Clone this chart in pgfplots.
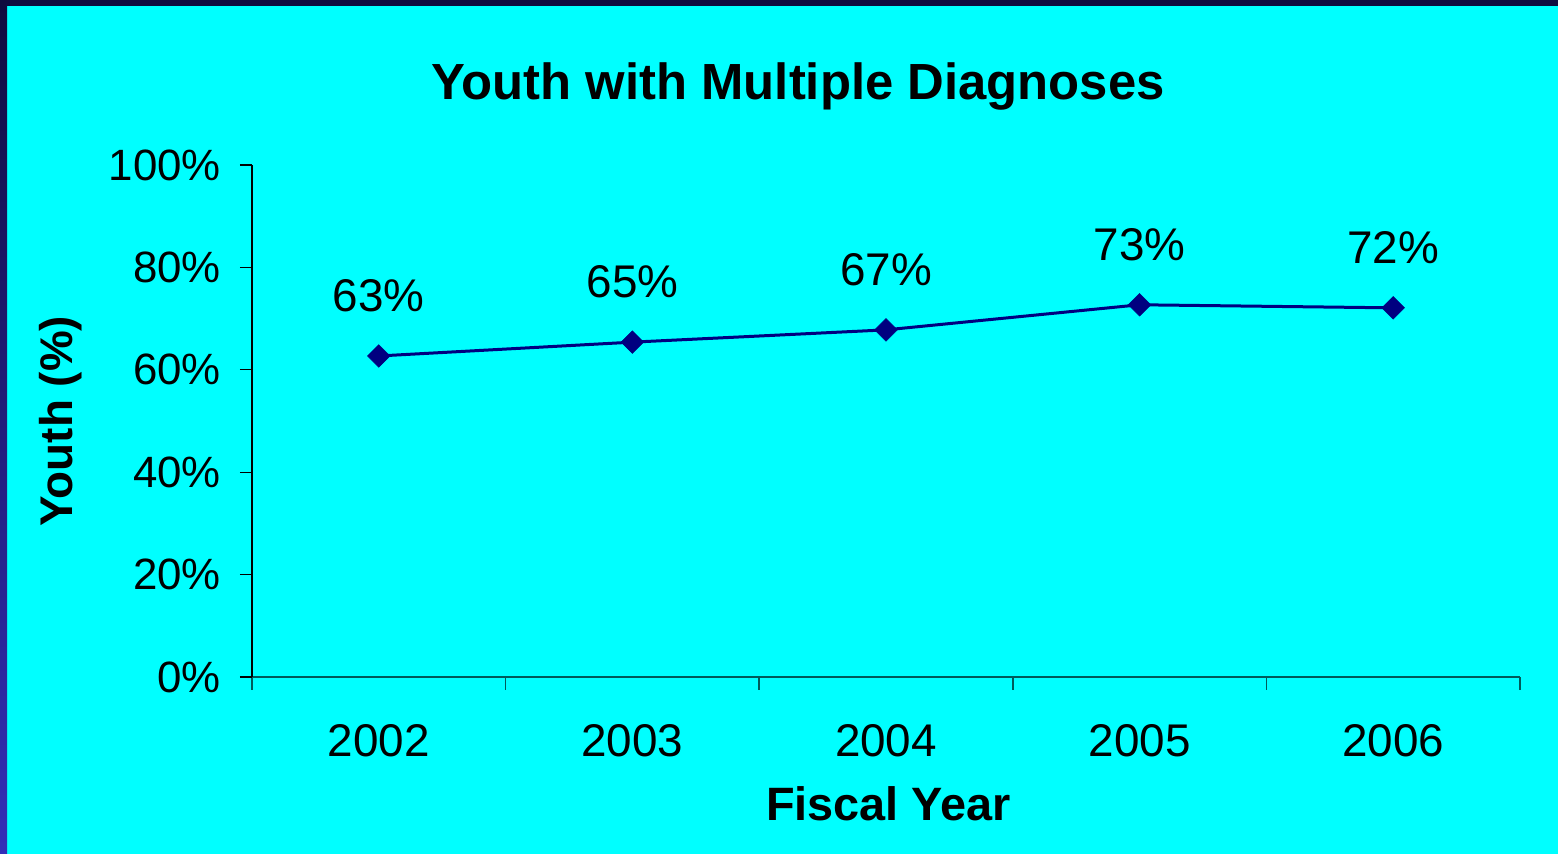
\documentclass[border=0pt]{standalone}
\usepackage{pgfplots}
\pgfplotsset{compat=1.18}
\usepackage{fontspec}
\setmainfont{Liberation Sans}
\definecolor{bgcyan}{RGB}{0,255,255}
\definecolor{navyline}{RGB}{0,0,128}
\definecolor{topband}{RGB}{15,13,63}
\definecolor{leftbot}{RGB}{51,48,184}
\definecolor{xaxcol}{RGB}{0,90,90}
\begin{document}
\begin{tikzpicture}
\fill[bgcyan] (0,0) rectangle (1558bp,854bp);
\fill[topband] (0,848bp) rectangle (1558bp,854bp);
\shade[top color=topband, bottom color=leftbot] (0,0) rectangle (7bp,854bp);
\node[font=\fontsize{51}{60}\selectfont\bfseries, anchor=base, inner sep=0pt] at (798bp,754bp) {Youth with Multiple Diagnoses};
\begin{axis}[
  at={(252bp,177bp)}, anchor=south west,
  width=1268bp, height=512bp, scale only axis,
  xmin=0.5, xmax=5.5, ymin=0, ymax=100,
  axis x line=bottom, axis y line=left,
  axis line style={-},
  x axis line style={draw=xaxcol, line width=1.6bp},
  y axis line style={draw=black, line width=1.2bp},
  xtick={1,2,3,4,5},
  xticklabels={2002,2003,2004,2005,2006},
  minor xtick={0.5,1.5,2.5,3.5,4.5,5.5},
  major x tick style={draw=none},
  minor x tick style={draw=xaxcol, line width=1.6bp},
  ytick={0,20,40,60,80,100},
  yticklabel={\pgfmathprintnumber{\tick}\%},
  y tick style={draw=black, line width=1.2bp},
  tick align=outside,
  minor tick length=13bp,
  major tick length=12bp,
  /pgf/number format/assume math mode=true,
  tick label style={text=black},
  xticklabel style={font=\fontsize{46}{54}\selectfont, anchor=base, inner sep=0pt, yshift=-68bp},
  yticklabel style={font=\fontsize{44}{52}\selectfont, anchor=east, inner sep=0pt, xshift=-19bp},
  xlabel={Fiscal Year},
  ylabel={Youth (\%)},
  xlabel style={font=\fontsize{47}{56}\selectfont\bfseries, at={(axis description cs:0.502,-0.2793)}, anchor=base, inner sep=0pt},
  ylabel style={font=\fontsize{46}{55}\selectfont\bfseries, at={(axis description cs:-0.1506,0.5)}, anchor=center, inner sep=0pt},
  clip=false,
]
\addplot[color=navyline, line width=3bp, mark=square*, mark size=8bp,
  mark options={rotate=45, fill=navyline, draw=navyline, line width=0.5bp},
  nodes near coords, point meta=explicit symbolic,
  every node near coord/.append style={anchor=center, yshift=60bp, inner sep=0pt, text=black, font=\fontsize{46}{54}\selectfont}]
  table[meta=label]{
x y label
1 62.7 63\%
2 65.4 65\%
3 67.8 67\%
4 72.7 73\%
5 72.1 72\%
};
\end{axis}
\end{tikzpicture}
\end{document}
